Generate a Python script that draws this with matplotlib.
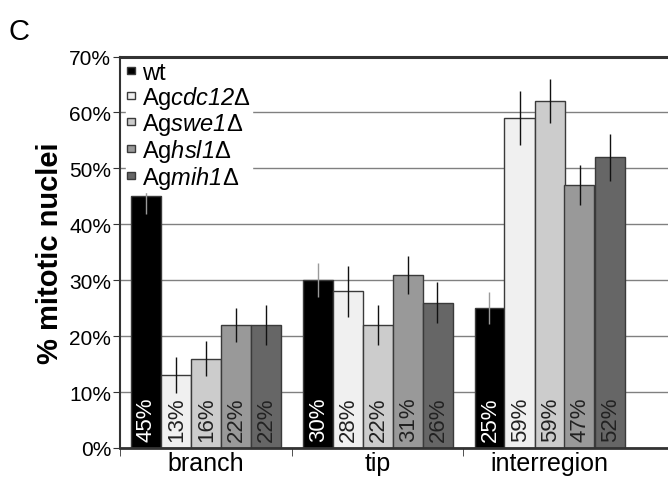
import numpy as np
import matplotlib.pyplot as plt

plt.rcParams['font.family'] = ['Liberation Sans', 'DejaVu Sans']
plt.rcParams['mathtext.fontset'] = 'custom'
plt.rcParams['mathtext.rm'] = 'Liberation Sans:italic'
plt.rcParams['mathtext.it'] = 'Liberation Sans:italic'

# data
categories = ["branch", "tip", "interregion"]
strains = ["wt", r"Ag$\mathit{cdc12}$Δ", r"Ag$\mathit{swe1}$Δ",
           r"Ag$\mathit{hsl1}$Δ", r"Ag$\mathit{mih1}$Δ"]
values = [
    [45, 30, 25],   # wt
    [13, 28, 59],   # cdc12
    [16, 22, 62],   # swe1
    [22, 31, 47],   # hsl1
    [22, 26, 52],   # mih1
]
errors = [
    [3.2, 3.0, 2.9],
    [3.2, 4.5, 4.9],
    [3.2, 3.6, 3.9],
    [3.1, 3.4, 3.6],
    [3.5, 3.6, 4.2],
]
labels = [
    ["45%", "30%", "25%"],
    ["13%", "28%", "59%"],
    ["16%", "22%", "59%"],
    ["22%", "31%", "47%"],
    ["22%", "26%", "52%"],
]
colors = ["#000000", "#f0f0f0", "#cccccc", "#999999", "#666666"]
text_colors = ["white", "#222222", "#222222", "#222222", "#222222"]
err_colors = ["#9a9a9a", "#111111", "#111111", "#111111", "#111111"]

fig = plt.figure(figsize=(6.68, 4.81), dpi=100)
ax = fig.add_axes([119.5 / 668, 32 / 481, 1 - 119.5 / 668, (449 - 57.5) / 481])

x = np.arange(len(categories))
w = 30 / 172
for j in range(len(strains)):
    pos = x + (j - 2) * w
    ax.bar(pos, values[j], width=w, color=colors[j], edgecolor="#3a3a3a",
           linewidth=1, label=strains[j], zorder=2)
    ax.errorbar(pos, values[j], yerr=errors[j], fmt="none", ecolor=err_colors[j],
                elinewidth=1, capsize=0, zorder=3)
    for k in range(len(categories)):
        ax.text(pos[k] + 0.005, 1.3, labels[j][k], rotation=90, ha="center",
                va="bottom", fontsize=16, color=text_colors[j], zorder=4)

ax.set_ylim(0, 70)
ax.set_xlim(-0.5, (668 - 119.5) / 172 - 0.5)
ax.set_yticks(np.arange(0, 71, 10))
ax.set_yticklabels([f"{v}%" for v in range(0, 71, 10)], fontsize=15)
ax.yaxis.grid(True, color="#808080", linewidth=1)
ax.set_axisbelow(True)

ax.set_xticks(x)
ax.set_xticklabels(categories, fontsize=18)
ax.tick_params(axis="x", length=0, pad=2)
ax.set_xticks([-0.5, 0.5, 1.5], minor=True)
ax.tick_params(axis="x", which="minor", length=6, direction="out", color="#333333")
ax.tick_params(axis="y", length=5, direction="out", color="#333333", pad=1)

ax.spines["right"].set_visible(False)
ax.spines["top"].set_linewidth(2.2)
ax.spines["top"].set_color("#333333")
ax.spines["left"].set_color("#333333")
ax.spines["left"].set_linewidth(1.5)
ax.spines["bottom"].set_color("#333333")
ax.spines["bottom"].set_linewidth(2)

ax.set_ylabel("% mitotic nuclei", fontsize=21, fontweight="bold", labelpad=4)

leg = ax.legend(loc="upper left", bbox_to_anchor=(0.008, 0.995), fontsize=17,
                frameon=True, fancybox=False, edgecolor="white", facecolor="white",
                framealpha=1, handlelength=0.3, handleheight=0.08,
                handletextpad=0.3, labelspacing=0.0, borderpad=0.05,
                borderaxespad=0.1)
leg.set_zorder(5)

fig.text(8 / 668, 1 - 40 / 481, "C", fontsize=21)

fig.savefig("out.png", dpi=100)
